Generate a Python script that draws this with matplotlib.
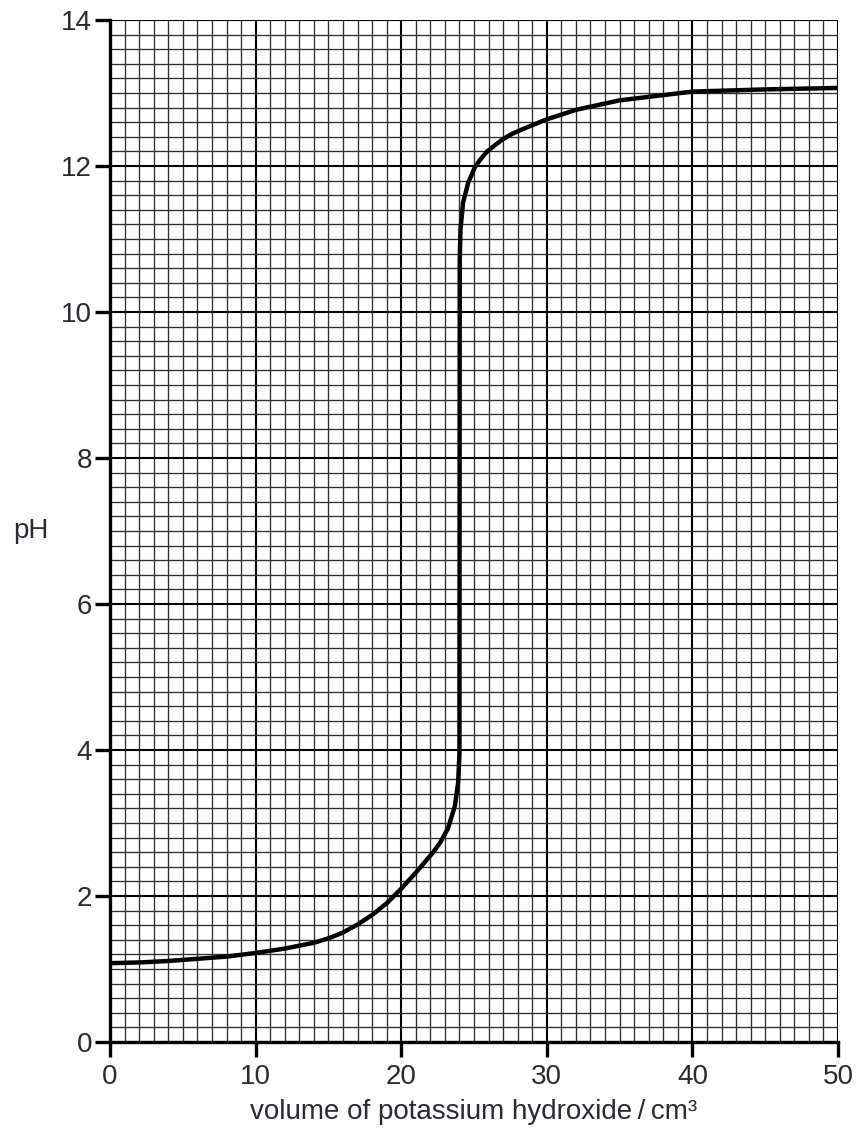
import matplotlib
matplotlib.use("Agg")
import numpy as np
import matplotlib.pyplot as plt
from matplotlib.ticker import MultipleLocator

# titration curve: volume of KOH (cm3) vs pH
volume = [0, 2, 4, 6, 8, 10, 12, 14, 15, 16, 17, 18, 19, 20, 21, 21.6, 22.2,
          22.7, 23.22, 23.68, 23.91, 24.0, 24.02, 24.07, 24.25, 24.6, 25.05,
          25.4, 25.85, 26.4, 27.0, 27.6, 28.4, 29.5, 30, 32, 35, 40, 45, 50]
ph = [1.08, 1.09, 1.11, 1.14, 1.17, 1.22, 1.28, 1.36, 1.42, 1.50, 1.61,
      1.74, 1.90, 2.10, 2.32, 2.46, 2.60, 2.74, 2.93, 3.23, 3.55, 3.95,
      10.7, 11.13, 11.5, 11.77, 11.98, 12.08, 12.19, 12.28, 12.37, 12.44,
      12.51, 12.6, 12.64, 12.77, 12.9, 13.02, 13.05, 13.07]

x_ticks = [0, 10, 20, 30, 40, 50]
y_ticks = [0, 2, 4, 6, 8, 10, 12, 14]

plt.rcParams['font.family'] = ['Liberation Sans', 'DejaVu Sans']
text_col = '#2a2a30'

fig = plt.figure(figsize=(8.57, 11.33), dpi=100)
ax = fig.add_axes([0.1284, 0.0803, 0.8494, 0.902])

ax.set_xlim(0, 50)
ax.set_ylim(0, 14)

# graph paper grid
ax.xaxis.set_minor_locator(MultipleLocator(1))
ax.yaxis.set_minor_locator(MultipleLocator(0.2))
ax.grid(which='minor', color='#2e2e2e', linewidth=0.95)
ax.grid(which='major', color='black', linewidth=1.5)
ax.set_axisbelow(True)

ax.plot(volume, ph, color='black', linewidth=3.2, solid_capstyle='round',
        solid_joinstyle='round', zorder=5)

ax.set_xticks(x_ticks)
ax.set_yticks(y_ticks)
ax.tick_params(which='major', direction='out', length=11, width=2.4,
               labelsize=20, labelcolor=text_col, pad=2)
ax.tick_params(axis='x', which='major', pad=5)
ax.tick_params(which='minor', length=0)

for side in ['top', 'right']:
    ax.spines[side].set_visible(False)
for side in ['left', 'bottom']:
    ax.spines[side].set_linewidth(2.4)
    ax.spines[side].set_zorder(6)

ax.set_xlabel('volume of potassium hydroxide\u2009/\u2009cm³', fontsize=20,
              color=text_col, labelpad=6)
ax.set_ylabel('pH', fontsize=20, color=text_col, rotation=0,
              ha='center', va='center')
ax.yaxis.set_label_coords(-0.1085, 0.5)

fig.savefig('out.png', dpi=100)
